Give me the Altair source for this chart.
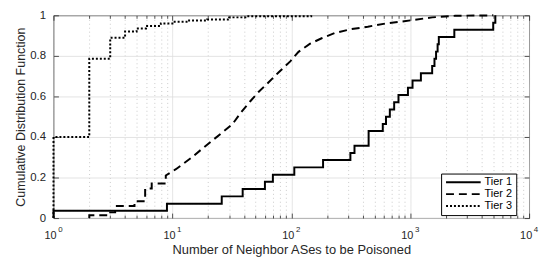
import altair as alt
import pandas as pd

# ---- data ----
tiers = ["Tier 1", "Tier 2", "Tier 3"]

t1_x = [1, 1, 9, 26, 39, 60, 70, 106, 185, 314, 340, 447, 588, 626, 674, 733, 797,
        957, 1046, 1230, 1530, 1600, 1650, 1700, 1740, 2350, 4990, 5200]
t1_y = [0, 0.036, 0.071, 0.107, 0.143, 0.179, 0.214, 0.25, 0.286, 0.321, 0.357, 0.429,
        0.464, 0.5, 0.536, 0.571, 0.607, 0.643, 0.679, 0.714, 0.75, 0.786, 0.821,
        0.857, 0.893, 0.929, 0.964, 1.0]

t2_x = [2, 2, 3, 3, 3.3, 3.3, 4.8, 4.8, 5.9, 5.9, 6.7, 6.7, 8.8, 8.8, 10.7, 14.4, 17.4,
        21, 26, 32, 37.5, 45, 53, 64.5, 78, 98, 115, 144, 180, 232, 319, 440, 624, 890,
        1530, 2400, 5000]
t2_y = [0, 0.014, 0.014, 0.028, 0.028, 0.059, 0.059, 0.083, 0.083, 0.146, 0.146, 0.17,
        0.17, 0.21, 0.241, 0.297, 0.337, 0.376, 0.42, 0.463, 0.519, 0.575, 0.622, 0.67,
        0.718, 0.773, 0.82, 0.86, 0.887, 0.913, 0.932, 0.944, 0.96, 0.971, 0.99, 0.998,
        1.0]

t3_x = [1, 1, 2, 3, 4, 5, 6, 8, 10, 13.5, 19.6, 30, 42, 147]
t3_y = [0, 0.40, 0.786, 0.889, 0.92, 0.935, 0.948, 0.96, 0.968, 0.975, 0.979, 0.99,
        0.995, 1.0]

x_major = [1, 10, 100, 1000, 10000]
x_exponents = ["0", "1", "2", "3", "4"]
x_minor = [2, 3, 4, 5, 6, 7, 8, 9, 20, 30, 40, 50, 60, 70, 80, 90,
           200, 300, 400, 500, 600, 700, 800, 900, 2000, 3000, 4000, 5000, 6000,
           7000, 8000, 9000]
y_ticks = [0, 0.2, 0.4, 0.6, 0.8, 1]

# ---- tables ----
def frame(xs, ys, name):
    return pd.DataFrame({"x": xs, "y": ys, "tier": name, "i": range(len(xs))})

step_df = pd.concat([frame(t1_x, t1_y, tiers[0]), frame(t3_x, t3_y, tiers[2])])
lin_df = frame(t2_x, t2_y, tiers[1])

W, H = 481, 205
FONT = "Liberation Sans"
AX = "#262626"
all_x = sorted(x_major + x_minor)
major_list = "[" + ",".join(str(v) for v in x_major) + "]"
exp_list = "[" + ",".join(f"'{e}'" for e in x_exponents) + "]"
major_test = f"indexof({major_list}, datum.value) >= 0"

xscale = alt.Scale(type="log", domain=[1, 10000])
yscale = alt.Scale(domain=[0, 1])
dash_scale = alt.Scale(domain=tiers, range=[[1, 0], [8, 5], [2, 2]])
legend = alt.Legend(title=None, orient="none", legendX=392, legendY=160,
                    symbolType="stroke", symbolSize=1225, symbolStrokeWidth=2,
                    symbolStrokeColor="black", strokeColor="black", fillColor="white",
                    padding=4, labelFont=FONT, labelFontSize=11, labelColor="black",
                    rowPadding=0, labelOffset=3, cornerRadius=0, clipHeight=9.6)

x_main_axis = alt.Axis(
    values=all_x, labelExpr=f"{major_test} ? '10' : ''", labelOverlap=False,
    labelFlush=False,
    labelFont=FONT, labelFontSize=11, labelColor=AX, labelPadding=12, labelOffset=-3.5,
    ticks=False, domain=False, grid=True,
    gridColor={"condition": {"test": major_test, "value": "#dcdcdc"}, "value": "#bdbdbd"},
    gridDash={"condition": {"test": major_test, "value": [1, 0]}, "value": [1, 3]},
    gridWidth=0.8,
    title="Number of Neighbor ASes to be Poisoned", titleFont=FONT, titleFontSize=13,
    titleFontWeight="normal", titleColor=AX, titlePadding=3)
x_exp_axis = alt.Axis(
    orient="bottom", values=x_major,
    labelExpr=f"{exp_list}[indexof({major_list}, datum.value)]",
    labelOverlap=False, labelFlush=False, labelFont=FONT, labelFontSize=8, labelColor=AX,
    labelPadding=8, labelOffset=6.5, ticks=False, domain=False, grid=False, title=None)
y_main_axis = alt.Axis(
    values=y_ticks, labelFont=FONT, labelFontSize=11.5, labelColor=AX, labelPadding=8,
    ticks=False, domain=False, grid=True, gridColor="#dcdcdc", gridWidth=0.8,
    labelExpr="datum.value == 0 ? '0' : datum.value == 1 ? '1' : format(datum.value, '.1f')",
    title="Cumulative Distribution Function", titleFont=FONT, titleFontSize=12.6,
    titleFontWeight="normal", titleColor=AX, titlePadding=2)

tick_size = {"condition": {"test": major_test, "value": 5}, "value": 3}

def tick_axis_x(orient):
    return alt.Axis(orient=orient, offset=-H, values=all_x, labels=False, grid=False,
                    domain=False, ticks=True, tickSize=tick_size, tickColor=AX,
                    tickWidth=0.8, title=None)

def tick_axis_y(orient):
    return alt.Axis(orient=orient, offset=-W, values=y_ticks, labels=False, grid=False,
                    domain=False, ticks=True, tickSize=5, tickColor=AX, tickWidth=0.8,
                    title=None)

main = alt.Chart(step_df).mark_line(interpolate="step-after", color="black",
                                    strokeWidth=2, clip=False).encode(
    x=alt.X("x:Q", scale=xscale, axis=x_main_axis),
    y=alt.Y("y:Q", scale=yscale, axis=y_main_axis),
    strokeDash=alt.StrokeDash("tier:N", scale=dash_scale, legend=legend),
    order="i:Q",
)

tier2 = alt.Chart(lin_df).mark_line(color="black", strokeWidth=2).encode(
    x=alt.X("x:Q", scale=xscale, axis=None),
    y=alt.Y("y:Q", scale=yscale, axis=None),
    strokeDash=alt.StrokeDash("tier:N", scale=dash_scale, legend=legend),
    order="i:Q",
)

ticks_a = alt.Chart(step_df).mark_point(opacity=0).encode(
    x=alt.X("x:Q", scale=xscale, axis=tick_axis_x("top")),
    y=alt.Y("y:Q", scale=yscale, axis=tick_axis_y("right")),
)
ticks_b = alt.Chart(step_df).mark_point(opacity=0).encode(
    x=alt.X("x:Q", scale=xscale, axis=tick_axis_x("bottom")),
    y=alt.Y("y:Q", scale=yscale, axis=tick_axis_y("left")),
)
exps = alt.Chart(step_df).mark_point(opacity=0).encode(
    x=alt.X("x:Q", scale=xscale, axis=x_exp_axis),
    y=alt.Y("y:Q", scale=yscale, axis=None),
)

chart = alt.layer(main, tier2, ticks_a, ticks_b, exps).resolve_axis(
    x="independent", y="independent"
).properties(
    width=W, height=H,
    autosize=alt.AutoSizeParams(type="none"),
    padding={"left": 46, "top": 6, "right": 10, "bottom": 42},
    background="white",
).configure_view(stroke=AX, strokeWidth=0.9)

chart.save("out.html", embed_options={"renderer": "svg", "actions": False})
